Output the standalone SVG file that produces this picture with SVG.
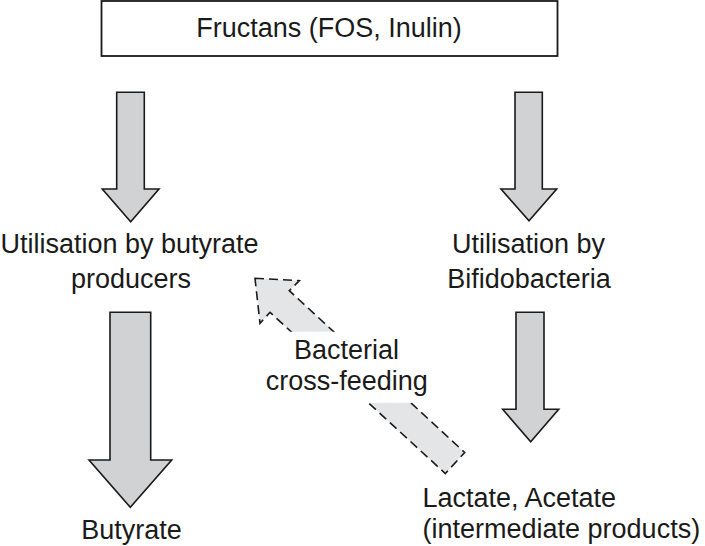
<svg xmlns="http://www.w3.org/2000/svg" width="705" height="546" viewBox="0 0 705 546">
<style>
text{font-family:"Liberation Sans",Arial,sans-serif;font-size:27px;fill:#1a1a1a}
.c{text-anchor:middle}
.box{fill:#fff;stroke:#1a1a1a;stroke-width:1.8}
.arr{fill:#d1d2d4;stroke:#1a1a1a;stroke-width:1.6;stroke-linejoin:miter}
.dash{fill:#e4e5e6;stroke:#1a1a1a;stroke-width:1.6;stroke-dasharray:9,5}
</style>
<defs>
<clipPath id="gap">
<rect x="0" y="0" width="705" height="331.7"/>
<rect x="0" y="402.7" width="705" height="143.3"/>
</clipPath>
</defs>
<rect width="705" height="546" fill="#fff"/>
<g id="connectors">
<polygon class="arr" points="116.7,92.3 144.3,92.3 144.3,189 159,189 130.7,221.7 102.3,189 116.7,189"/>
<polygon class="arr" points="515,92.3 542.3,92.3 542.3,189 556.7,189 529,220.7 501,189 515,189"/>
<polygon class="arr" points="110,312.3 150.7,312.3 150.7,460 171.7,460 130.3,507.3 89,460 110,460"/>
<polygon class="arr" points="516,312.3 544,312.3 544,409.3 558.7,409.3 530.7,441.7 502.7,409.3 516,409.3"/>
<g clip-path="url(#gap)">
<polygon class="dash" points="255,278.3 299.3,280.7 289.3,290.7 464.7,452.5 445.3,473.5 270,312.3 260,323.3"/>
</g>
</g>
<g id="fructans">
<rect class="box" x="101.5" y="1" width="456" height="55"/>
<text class="c" x="329" y="37">Fructans (FOS, Inulin)</text>
</g>
<g id="butyrate-producers">
<text class="c" x="129.5" y="253">Utilisation by butyrate</text>
<text class="c" x="131" y="288">producers</text>
</g>
<g id="bifidobacteria">
<text class="c" x="528.5" y="253">Utilisation by</text>
<text class="c" x="529" y="288">Bifidobacteria</text>
</g>
<g id="cross-feeding">
<text class="c" x="346.5" y="359">Bacterial</text>
<text class="c" x="346.7" y="390">cross-feeding</text>
</g>
<g id="butyrate">
<text class="c" x="131.5" y="539">Butyrate</text>
</g>
<g id="lactate-acetate">
<text x="422.5" y="507">Lactate, Acetate</text>
<text x="422.5" y="538">(intermediate products)</text>
</g>
</svg>
